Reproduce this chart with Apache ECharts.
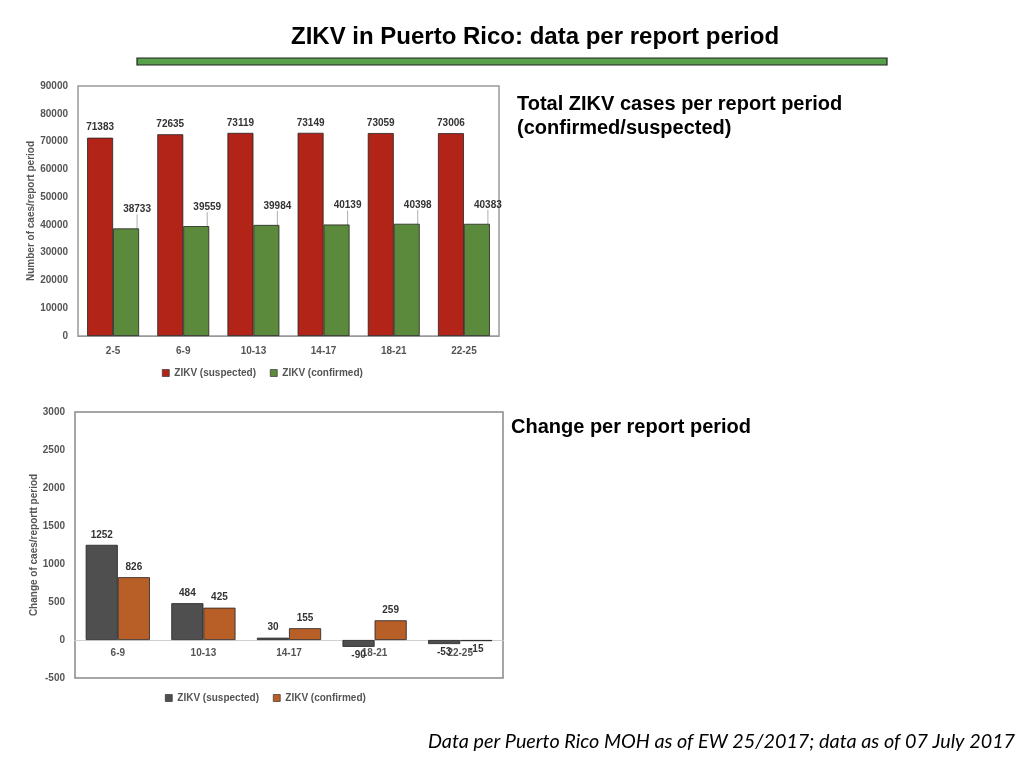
<!DOCTYPE html>
<html lang="en">
<head>
    <meta charset="UTF-8">
    <title>ZIKV in Puerto Rico</title>
    <script src="https://cdn.jsdelivr.net/npm/echarts@6/dist/echarts.min.js"></script>
    <style>
        html, body {
            margin: 0;
            padding: 0;
            background: #fff;
        }

        #main {
            width: 1024px;
            height: 768px;
        }
    </style>
</head>
<body>
<div id="main"></div>
<script>
    // top chart: totals per report period
    var categories = ['2-5', '6-9', '10-13', '14-17', '18-21', '22-25'];
    var suspected = [71383, 72635, 73119, 73149, 73059, 73006];
    var confirmed = [38733, 39559, 39984, 40139, 40398, 40383];

    // bottom chart: change per report period
    var changeCategories = ['6-9', '10-13', '14-17', '18-21', '22-25'];
    var changeSuspected = [1252, 484, 30, -90, -53];
    var changeConfirmed = [826, 425, 155, 259, -15];

    var font = 'Liberation Sans, Arial, sans-serif';
    var tickStyle = {fontFamily: font, fontSize: 10, fontWeight: 'bold', color: '#555'};
    var valueLabel = {
        show: true,
        position: 'top',
        distance: 5,
        fontFamily: font,
        fontSize: 10,
        fontWeight: 'bold',
        color: '#333'
    };

    function plain(v) {
        return String(v);
    }

    // negative changes get their label under the bar
    function withLabels(values) {
        return values.map(function (v) {
            return v < 0 ? {value: v, label: {position: 'bottom', distance: 3}} : v;
        });
    }

    var myChart = echarts.init(document.getElementById('main'));
    var option = {
        animation: false,
        backgroundColor: '#fff',
        graphic: [
            {
                type: 'text', left: 291, top: 25,
                style: {text: 'ZIKV in Puerto Rico: data per report period', font: 'bold 24px ' + font, fill: '#000'}
            },
            {
                type: 'rect', shape: {x: 137, y: 58, width: 750, height: 7},
                style: {fill: '#58a04b', stroke: '#222', lineWidth: 1.2}
            },
            {
                type: 'text', left: 517, top: 92,
                style: {
                    text: 'Total ZIKV cases per report period\n(confirmed/suspected)',
                    font: 'bold 20px ' + font, fill: '#000', lineHeight: 24
                }
            },
            {
                type: 'text', left: 511, top: 417,
                style: {text: 'Change per report period', font: 'bold 20px ' + font, fill: '#000'}
            },
            {
                type: 'text', left: 428, top: 732,
                style: {
                    text: 'Data per Puerto Rico MOH as of EW 25/2017; data as of 07 July 2017',
                    font: 'italic 19.8px Lato, sans-serif', fill: '#000'
                }
            }
        ],
        legend: [
            {
                top: 368, left: 162, itemWidth: 7, itemHeight: 7, itemGap: 14,
                icon: 'rect', textStyle: tickStyle, selectedMode: false, padding: 0,
                data: [
                    {name: 'ZIKV (suspected)', itemStyle: {color: '#b22418', borderColor: '#222', borderWidth: 0.6}},
                    {name: 'ZIKV (confirmed)', itemStyle: {color: '#5b8a3c', borderColor: '#222', borderWidth: 0.6}}
                ]
            },
            {
                top: 693, left: 165, itemWidth: 7, itemHeight: 7, itemGap: 14,
                icon: 'rect', textStyle: tickStyle, selectedMode: false, padding: 0,
                data: [
                    {name: 'ZIKV (suspected)', itemStyle: {color: '#4f4f4f', borderColor: '#222', borderWidth: 0.6}},
                    {name: 'ZIKV (confirmed)', itemStyle: {color: '#b85f28', borderColor: '#222', borderWidth: 0.6}}
                ]
            }
        ],
        grid: [
            {left: 78, top: 86, width: 421, height: 250, show: true, borderColor: '#999', borderWidth: 1.5},
            {left: 75, top: 412, width: 428, height: 266, show: true, borderColor: '#888', borderWidth: 1.5}
        ],
        xAxis: [
            {
                gridIndex: 0, type: 'category', data: categories,
                axisTick: {show: false}, axisLine: {lineStyle: {color: '#999'}},
                axisLabel: Object.assign({margin: 10}, tickStyle)
            },
            {
                // sits on the zero line: 266 * 500 / 3500 = 38 px above the bottom
                gridIndex: 1, type: 'category', data: changeCategories, offset: -38,
                axisTick: {show: false}, axisLine: {onZero: false, lineStyle: {color: '#d0d0d0'}},
                axisLabel: Object.assign({margin: 8}, tickStyle)
            }
        ],
        yAxis: [
            {
                gridIndex: 0, type: 'value', min: 0, max: 90000, interval: 10000,
                name: 'Number of caes/report period', nameLocation: 'middle', nameGap: 42,
                nameTextStyle: {fontFamily: font, fontSize: 10, fontWeight: 'bold', color: '#555'},
                splitLine: {show: false}, axisLine: {show: false}, axisTick: {show: false},
                axisLabel: Object.assign({margin: 10, formatter: plain}, tickStyle)
            },
            {
                gridIndex: 1, type: 'value', min: -500, max: 3000, interval: 500,
                name: 'Change of caes/reportt period', nameLocation: 'middle', nameGap: 34,
                nameTextStyle: {fontFamily: font, fontSize: 10, fontWeight: 'bold', color: '#555'},
                splitLine: {show: false}, axisLine: {show: false}, axisTick: {show: false},
                axisLabel: Object.assign({margin: 10, formatter: plain}, tickStyle)
            }
        ],
        series: [
            {
                name: 'ZIKV (suspected)', type: 'bar', xAxisIndex: 0, yAxisIndex: 0,
                data: suspected, barGap: '0%', barCategoryGap: '26%',
                itemStyle: {color: '#b22418', borderColor: '#222', borderWidth: 0.8},
                label: valueLabel
            },
            {
                name: 'ZIKV (confirmed)', type: 'bar', xAxisIndex: 0, yAxisIndex: 0,
                data: confirmed, barGap: '0%', barCategoryGap: '26%',
                itemStyle: {color: '#5b8a3c', borderColor: '#222', borderWidth: 0.8},
                label: valueLabel,
                labelLayout: {dx: 11, dy: -9},
                labelLine: {show: true, lineStyle: {color: '#999', width: 0.8}}
            },
            {
                name: 'ZIKV (suspected)', type: 'bar', xAxisIndex: 1, yAxisIndex: 1,
                data: withLabels(changeSuspected), barGap: '0%', barCategoryGap: '25%',
                itemStyle: {color: '#4f4f4f', borderColor: '#222', borderWidth: 0.8},
                label: valueLabel
            },
            {
                name: 'ZIKV (confirmed)', type: 'bar', xAxisIndex: 1, yAxisIndex: 1,
                data: withLabels(changeConfirmed), barGap: '0%', barCategoryGap: '25%',
                itemStyle: {color: '#b85f28', borderColor: '#222', borderWidth: 0.8},
                label: valueLabel
            }
        ]
    };
    myChart.setOption(option);
</script>
</body>
</html>
